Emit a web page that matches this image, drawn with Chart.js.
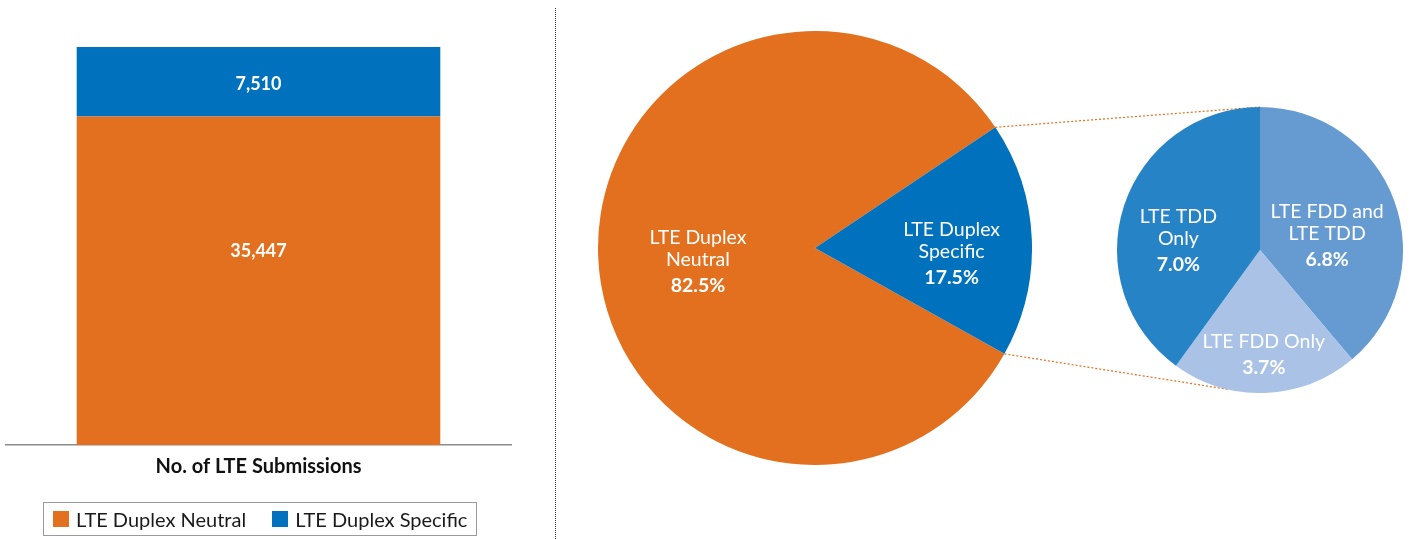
<!DOCTYPE html>
<html>
<head>
<meta charset="utf-8">
<script src="https://cdn.jsdelivr.net/npm/chart.js@4.4.1/dist/chart.umd.min.js"></script>
<style>
  body { margin: 0; background: #fff; font-family: Lato, sans-serif; }
  #page { position: relative; width: 1411px; height: 539px; overflow: hidden; }
  canvas { position: absolute; }
  #bar { left: 0; top: 0; }
  #bigPie { left: 598px; top: 31px; }
  #smallPie { left: 1117px; top: 107px; }
  #joins { left: 0; top: 0; }
  #divider { position: absolute; left: 555px; top: 8px; height: 531px; border-left: 1px dotted #333; }
  #legend { position: absolute; left: 43px; top: 502px; width: 432px; height: 32px; border: 1px solid #9a9a9a;
            display: flex; align-items: center; font-size: 20px; color: #1a1a1a; white-space: nowrap; }
  #legend span.sw { display: inline-block; flex-shrink: 0; width: 16px; height: 16px; margin: 0 7px 0 9px; }
  #legend span.item { display: flex; flex-shrink: 0; align-items: center; margin-right: 17px; }
</style>
</head>
<body>
<div id="page">
  <canvas id="joins" width="1411" height="539"></canvas>
  <canvas id="bar" width="520" height="489"></canvas>
  <div id="divider"></div>
  <canvas id="bigPie" width="434" height="434"></canvas>
  <canvas id="smallPie" width="286" height="286"></canvas>
  <div id="legend"></div>
</div>
<script>
// data
const categories = ['No. of LTE Submissions'];
const seriesNames = ['LTE Duplex Neutral', 'LTE Duplex Specific'];
const neutralValues = [35447];
const specificValues = [7510];
const seriesColors = ['#E3701E', '#0071BC'];

const splitNames = ['LTE Duplex Neutral', 'LTE Duplex Specific'];
const splitShares = [82.5, 17.5];
const splitLines = [['LTE Duplex', 'Neutral'], ['LTE Duplex', 'Specific']];

const detailNames = ['LTE FDD and LTE TDD', 'LTE FDD Only', 'LTE TDD Only'];
const detailShares = [6.8, 3.7, 7.0];
const detailLines = [['LTE FDD and', 'LTE TDD'], ['LTE FDD Only'], ['LTE TDD', 'Only']];
const detailColors = ['#669BD2', '#A9C2E6', '#2683C6'];

const total = neutralValues[0] + specificValues[0];

// numbers written on the bar segments (height share from the segment base)
const labelAt = [0.59, 0.46];
const barValueLabels = {
  id: 'barValueLabels',
  afterDatasetsDraw(chart) {
    const ctx = chart.ctx;
    ctx.save();
    ctx.fillStyle = '#fff';
    ctx.font = 'bold 18px Lato';
    ctx.textAlign = 'center';
    ctx.textBaseline = 'middle';
    chart.data.datasets.forEach((ds, i) => {
      chart.getDatasetMeta(i).data.forEach((bar, j) => {
        const y = bar.base + (bar.y - bar.base) * labelAt[i];
        ctx.fillText(ds.data[j].toLocaleString('en-US'), bar.x, y);
      });
    });
    ctx.restore();
  }
};

// text inside pie slices: name lines + bold percent
function sliceLabels(lines, radius, dy) {
  return {
    id: 'sliceLabels',
    afterDatasetsDraw(chart) {
      const ctx = chart.ctx;
      const ds = chart.data.datasets[0];
      ctx.save();
      ctx.fillStyle = '#fff';
      ctx.textAlign = 'center';
      ctx.textBaseline = 'middle';
      chart.getDatasetMeta(0).data.forEach((arc, i) => {
        const mid = (arc.startAngle + arc.endAngle) / 2;
        const cx = arc.x + Math.cos(mid) * arc.outerRadius * radius[i];
        const cy = arc.y + Math.sin(mid) * arc.outerRadius * radius[i] + dy[i];
        const rows = lines[i].concat([ds.data[i].toFixed(1) + '%']);
        let y = cy - ((rows.length - 1) * 22 + 4) / 2;
        rows.forEach((t, k) => {
          const last = k === rows.length - 1;
          if (last) y += 4;
          ctx.font = (last ? 'bold ' : '') + '19.5px Lato';
          ctx.fillText(t, cx, y);
          y += 22;
        });
      });
      ctx.restore();
    }
  };
}

const bar = new Chart(document.getElementById('bar'), {
  type: 'bar',
  data: {
    labels: categories,
    datasets: [
      { label: seriesNames[0], data: neutralValues, backgroundColor: seriesColors[0] },
      { label: seriesNames[1], data: specificValues, backgroundColor: seriesColors[1] }
    ]
  },
  options: {
    responsive: false,
    animation: false,
    layout: { padding: { left: 6, right: 9, top: 47, bottom: 0 } },
    datasets: { bar: { barPercentage: 0.72, categoryPercentage: 1 } },
    plugins: { legend: { display: false }, tooltip: { enabled: false } },
    scales: {
      x: {
        stacked: true,
        grid: { display: false, drawTicks: false },
        border: { color: '#8c8c8c', width: 1.5 },
        ticks: { padding: 10, color: '#111', font: { family: 'Lato', size: 20, weight: 'bold' } }
      },
      y: { stacked: true, display: false, min: 0, max: total }
    }
  },
  plugins: [barValueLabels]
});

const bigPie = new Chart(document.getElementById('bigPie'), {
  type: 'pie',
  data: { labels: splitNames, datasets: [{ data: splitShares, backgroundColor: seriesColors, borderWidth: 0 }] },
  options: {
    responsive: false,
    animation: false,
    rotation: 119.2,
    plugins: { legend: { display: false }, tooltip: { enabled: false } }
  },
  plugins: [sliceLabels(splitLines, [0.54, 0.63], [9, 11])]
});

const smallPie = new Chart(document.getElementById('smallPie'), {
  type: 'pie',
  data: { labels: detailNames, datasets: [{ data: detailShares, backgroundColor: detailColors, borderWidth: 0 }] },
  options: {
    responsive: false,
    animation: false,
    rotation: 0,
    plugins: { legend: { display: false }, tooltip: { enabled: false } }
  },
  plugins: [sliceLabels(detailLines, [0.5, 0.73, 0.6], [10, 0, 17])]
});

// legend box under the bar
const legend = document.getElementById('legend');
seriesNames.forEach((name, i) => {
  const item = document.createElement('span');
  item.className = 'item';
  item.innerHTML = '<span class="sw" style="background:' + seriesColors[i] + '"></span>' + name;
  legend.appendChild(item);
});

// dotted lines joining the blue slice to the breakdown pie
function drawJoins() {
  const ctx = document.getElementById('joins').getContext('2d');
  const bigC = document.getElementById('bigPie');
  const smC = document.getElementById('smallPie');
  const a = bigPie.getDatasetMeta(0).data[1];
  const b = smallPie.getDatasetMeta(0).data[0];
  const joinAngles = [-90, 103].map(d => d * Math.PI / 180);
  const from = [a.startAngle, a.endAngle].map(t => [
    bigC.offsetLeft + a.x + Math.cos(t) * a.outerRadius,
    bigC.offsetTop + a.y + Math.sin(t) * a.outerRadius
  ]);
  const to = joinAngles.map(t => [
    smC.offsetLeft + b.x + Math.cos(t) * b.outerRadius,
    smC.offsetTop + b.y + Math.sin(t) * b.outerRadius
  ]);
  ctx.strokeStyle = '#E3701E';
  ctx.lineWidth = 1.2;
  ctx.setLineDash([2, 2]);
  for (let i = 0; i < 2; i++) {
    ctx.beginPath();
    ctx.moveTo(from[i][0], from[i][1]);
    ctx.lineTo(to[i][0], to[i][1]);
    ctx.stroke();
  }
}
drawJoins();
</script>
</body>
</html>
